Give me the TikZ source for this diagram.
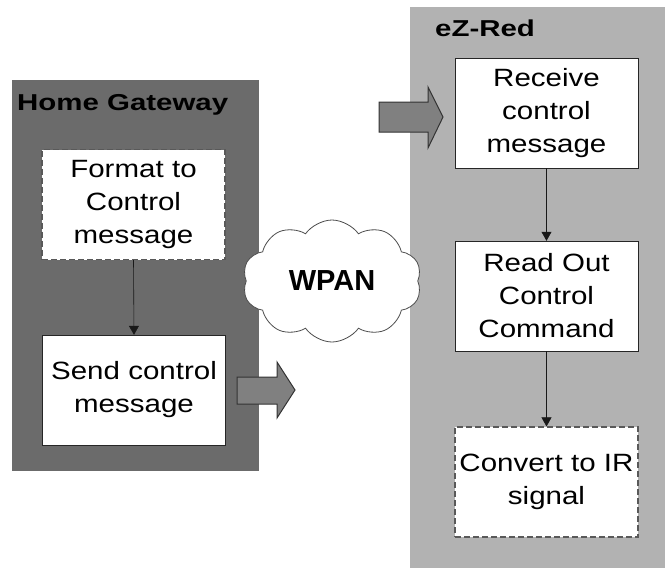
\documentclass[tikz,border=0pt]{standalone}
\usepackage{fontspec}
\setmainfont{Liberation Sans}
\newfontfamily\boxfont{Liberation Sans}[FakeStretch=1.18]
\newfontfamily\titlefont{Liberation Sans Bold}[FakeStretch=1.28]
\newfontfamily\cloudfont{Liberation Sans Bold}
\usetikzlibrary{arrows.meta,shapes.symbols}
\begin{document}
\begin{tikzpicture}[x=1pt,y=-1pt,
	stepbox/.style={draw=black!85, fill=white, minimum width=183pt, minimum height=110pt,
		inner sep=0pt, text width=181pt, align=center, font=\myfontbox},
	optbox/.style={stepbox, draw=black!65, line width=1.2pt, dash pattern=on 6pt off 3pt},
	flow/.style={-{Triangle[length=9pt,width=10pt]}, draw=black!90, line width=0.6pt},
	bigarrow/.style={fill=black!50, draw=black!80, line width=1pt, line join=miter}]
			\newcommand{\myfontbox}{\boxfont\fontsize{25}{33}\selectfont}
			\newcommand{\myfonttitle}[1]{
				\titlefont\fontsize{23}{26}\selectfont{#1}
			}%Frame of the page
			\useasboundingbox (0,0) rectangle (669,568);
			%The two devices
			\fill[black!58] (12,80) rectangle (259,471);
			\fill[black!30] (410,7) rectangle (665,568);
			\node [anchor=base west, inner sep=0pt] (hgtitle) at (17,110) {\myfonttitle{Home Gateway}};
			\node [anchor=base west, inner sep=0pt] (eztitle) at (435,36) {\myfonttitle{eZ-Red}};
			%The radio link
			\node [cloud, cloud puffs=10, cloud puff arc=110, aspect=1.6, draw=black!70, fill=white, line width=0.8pt,
				minimum width=179pt, minimum height=122pt, inner sep=0pt,
				font=\cloudfont\fontsize{29}{32}\selectfont] (wpan) at (332,281) {WPAN};
			%Steps in the gateway
			\coordinate (centerformat) at (133.5,204.5);
			\node [optbox] (format) at (centerformat) {Format to\\Control\\message};
			\coordinate (centersend) at (134,390);
			\node [stepbox] (send) at (centersend) {Send control\\message};
			%Steps in the eZ-Red
			\coordinate (centerreceive) at (546.5,113);
			\node [stepbox] (receive) at (centerreceive) {Receive\\control\\message};
			\coordinate (centerreadout) at (546.5,296);
			\node [stepbox] (readout) at (centerreadout) {Read Out\\Control\\Command};
			\coordinate (centerconvert) at (546.5,482);
			\node [optbox] (convert) at (centerconvert) {Convert to IR\\signal};
			%Thin arrows
			\draw[flow] (format.south) -- (send.north);
			\draw[flow] (receive.south) -- (readout.north);
			\draw[flow] (readout.south) -- (convert.north);
			%Block arrows into and out of the air
			\draw[bigarrow] (237,377) -- (277,377) -- (277,362) -- (295,390) -- (277,418) -- (277,404) -- (237,404) -- cycle;
			\draw[bigarrow] (379,102) -- (428,102) -- (428,87) -- (443,117) -- (428,148) -- (428,132) -- (379,132) -- cycle;
\end{tikzpicture}
\end{document}
